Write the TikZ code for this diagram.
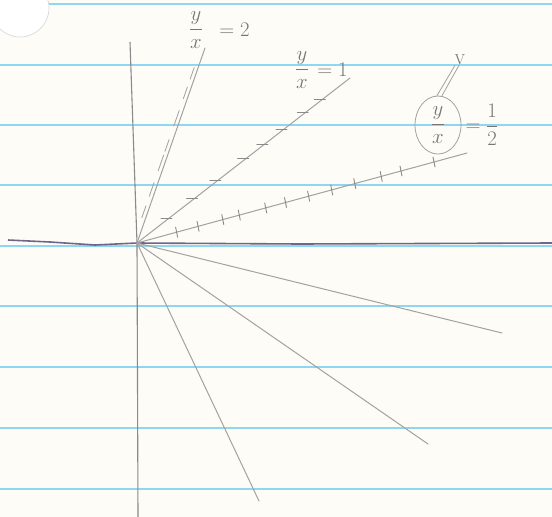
\documentclass[tikz,border=0pt]{standalone}
\usepackage{amsmath}
\usetikzlibrary{positioning,calc,shapes.geometric}
\definecolor{skPaper}{HTML}{FDFCF6}
\definecolor{skRule}{HTML}{8ED6F2}
\definecolor{skAxis}{HTML}{6E6688}
\definecolor{skPencil}{HTML}{A2A2A2}
\definecolor{skLead}{HTML}{767676}
\tikzset{
  rulingline/.style={skRule, line width=1.4pt},
  axisline/.style={skAxis, line width=1.6pt},
  yaxisline/.style={skPencil!85!black, line width=1.1pt},
  rayline/.style={skPencil, line width=1pt, line cap=round},
  tickmark/.style={skPencil!85!black, line width=0.9pt, line cap=round},
  hatchmark/.style={skPencil, line width=0.8pt, line cap=round},
  ratiolabel/.style={text=skLead, font=\huge, inner sep=0pt},
  ringed/.style={draw=skPencil, ellipse, line width=0.8pt,
    minimum width=46pt, minimum height=58pt, inner sep=0pt}
}
\begin{document}
\begin{tikzpicture}[x=1pt, y=-1pt]
  \useasboundingbox (0,0) rectangle (552,517);
  \fill[skPaper] (0,0) rectangle (552,517);

  % ruled paper
  \draw[rulingline] (48,4) -- (552,4);
  \foreach \ry in {65,125,185,246,306,367,428,489}
    \draw[rulingline] (0,\ry) -- (552,\ry);

  % punched hole
  \draw[draw=skPencil!45, fill=white, line width=0.6pt] (20,8) circle (29);

  % axes
  \coordinate (O) at (137,243);
  \coordinate (xLeft) at (8,240);
  \coordinate (xRight) at (552,243);
  \coordinate (yTop) at (130,42);
  \coordinate (yBot) at (138,517);
  \draw[axisline] (xLeft) -- (50,242) -- (95,245) -- (O) -- (300,244) -- (xRight);
  \draw[yaxisline] (yTop) -- (O) -- (yBot);

  % rays
  \coordinate (tipTwo) at (205,48);
  \coordinate (tipOne) at (350,78);
  \coordinate (tipHalf) at (467,153);
  \coordinate (tipLowA) at (502,333);
  \coordinate (tipLowB) at (428,444);
  \coordinate (tipLowC) at (259,501);
  \foreach \tip in {tipTwo,tipOne,tipHalf,tipLowA,tipLowB,tipLowC}
    \draw[rayline] (O) -- (\tip);

  % shading marks on the upper rays
  \foreach \a/\b in {0.13/0.19,0.24/0.31,0.37/0.45,0.47/0.53,0.6/0.68,0.74/0.8,0.84/0.9}
    \draw[hatchmark] ($(O)!\a!(tipTwo)+(-4,0)$) -- ($(O)!\b!(tipTwo)+(-4,0)$);
  \foreach \t in {0.15,0.27,0.38,0.51,0.6,0.69,0.79,0.87}
    \draw[tickmark] ($(O)!\t!(tipOne)+(-8,0)$) -- ($(O)!\t!(tipOne)+(3,0)$);
  \foreach \t in {0.12,0.185,0.26,0.31,0.39,0.45,0.52,0.59,0.66,0.74,0.8,0.9}
    \draw[tickmark] ($(O)!\t!(tipHalf)+(-1,-5)$) -- ($(O)!\t!(tipHalf)+(1,5)$);

  % labels
  \node[ratiolabel] (fracTwo) at (196,30) {$\dfrac{y}{x}$};
  \node[ratiolabel, right=16pt of fracTwo] (rhsTwo) {$=2$};
  \node[ratiolabel] (fracOne) at (302,70) {$\dfrac{y}{x}$};
  \node[ratiolabel, right=8pt of fracOne] (rhsOne) {$=1$};
  \node[ratiolabel, ringed] (fracHalf) at (438,125) {$\dfrac{y}{x}$};
  \node[ratiolabel, right=4pt of fracHalf] (rhsHalf) {$=\dfrac{1}{2}$};
  \node[ratiolabel, font=\Large] (vmark) at (460,60) {V};
  \draw[hatchmark] ([xshift=-1pt]fracHalf.north) -- ([xshift=-5pt]vmark.south);
  \draw[hatchmark] ([xshift=4pt]fracHalf.north) -- ([xshift=-1pt]vmark.south);
\end{tikzpicture}
\end{document}
